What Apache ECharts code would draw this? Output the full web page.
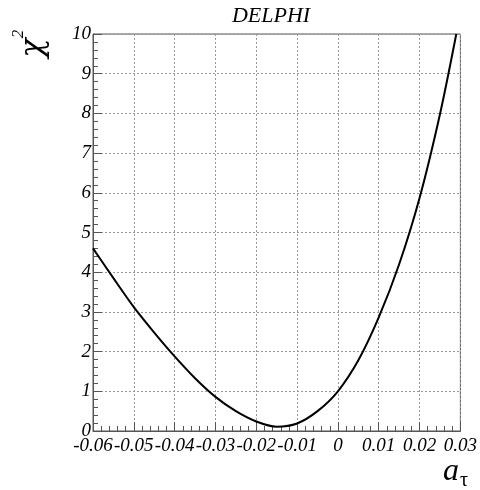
<!DOCTYPE html>
<html><head><meta charset="utf-8">
<script src="https://cdn.jsdelivr.net/npm/echarts@6/dist/echarts.min.js"></script>
<style>html,body{margin:0;padding:0;background:#fff}#c{width:480px;height:490px}</style>
</head><body><div id="c"></div>
<script>
var xValues = [-0.06, -0.055, -0.05, -0.045, -0.04, -0.035, -0.03, -0.025, -0.02, -0.015, -0.01, -0.005, 0, 0.005, 0.01, 0.015, 0.02, 0.025, 0.029];
var chi2Values = [4.60, 3.85, 3.12, 2.48, 1.88, 1.33, 0.86, 0.50, 0.24, 0.11, 0.19, 0.50, 1.0, 1.78, 2.86, 4.2, 5.87, 7.98, 10.0];
var xTickLabels = ['-0.06','-0.05','-0.04','-0.03','-0.02','-0.01','0','0.01','0.02','0.03'];
var yTickLabels = ['0','1','2','3','4','5','6','7','8','9','10'];
var titleText = 'DELPHI';

var font = 'Liberation Serif';
var chart = echarts.init(document.getElementById('c'));
chart.setOption({
  animation: false,
  backgroundColor: '#fff',
  title: {text: titleText, left: 266, top: 0, textAlign: 'center',
    textStyle: {fontFamily: font, fontStyle: 'italic', fontWeight: 'normal', fontSize: 22, color: '#000'}},
  grid: {left: 93, right: 16, top: 34, bottom: 59, show: true, borderColor: '#555', borderWidth: 1},
  graphic: [
    {type: 'text', x: 34, y: 48, rotation: Math.PI / 2,
      style: {text: 'χ', x: 0, y: 0, align: 'center', verticalAlign: 'middle', font: 'italic 32px "DejaVu Serif"', fill: '#000'}},
    {type: 'text', x: 19, y: 34, rotation: Math.PI / 2,
      style: {text: '2', x: 0, y: 0, align: 'center', verticalAlign: 'middle', font: 'italic 17px "Liberation Serif"', fill: '#000'}},
    {type: 'text', x: 451, y: 472,
      style: {text: 'a', x: 0, y: 0, align: 'center', verticalAlign: 'middle', font: 'italic 32px "Liberation Serif"', fill: '#000'}},
    {type: 'text', x: 464, y: 481,
      style: {text: 'τ', x: 0, y: 0, align: 'center', verticalAlign: 'middle', font: '20px "Liberation Serif"', fill: '#000'}}
  ],
  xAxis: {type: 'value', min: -0.06, max: 0.03, interval: 0.01,
    axisLine: {onZero: false, lineStyle: {color: '#555', width: 1}},
    axisTick: {inside: true, length: 9, lineStyle: {color: '#555'}},
    minorTick: {show: true, splitNumber: 5, length: 5, lineStyle: {color: '#555'}},
    splitLine: {show: true, lineStyle: {color: '#999', type: [2, 2], width: 1}},
    axisLabel: {margin: 5, fontFamily: font, fontStyle: 'italic', fontSize: 19, color: '#000',
      formatter: function(v){ var i = Math.round((v + 0.06) * 100); return xTickLabels[i]; }}
  },
  yAxis: {type: 'value', min: 0, max: 10, interval: 1,
    axisLine: {show: true, onZero: false, lineStyle: {color: '#555', width: 1}},
    axisTick: {show: true, inside: true, length: 9, lineStyle: {color: '#555'}},
    minorTick: {show: true, splitNumber: 5, length: 5, lineStyle: {color: '#555'}},
    splitLine: {show: true, lineStyle: {color: '#999', type: [2, 2], width: 1}},
    axisLabel: {margin: 2, fontFamily: font, fontStyle: 'italic', fontSize: 19, color: '#000',
      formatter: function(v){ return yTickLabels[Math.round(v)]; }}
  },
  series: [{type: 'line', data: xValues.map(function(x, i){ return [x, chi2Values[i]]; }),
    smooth: 0.3, showSymbol: false, clip: true,
    lineStyle: {color: '#000', width: 2}}]
});
</script></body></html>
